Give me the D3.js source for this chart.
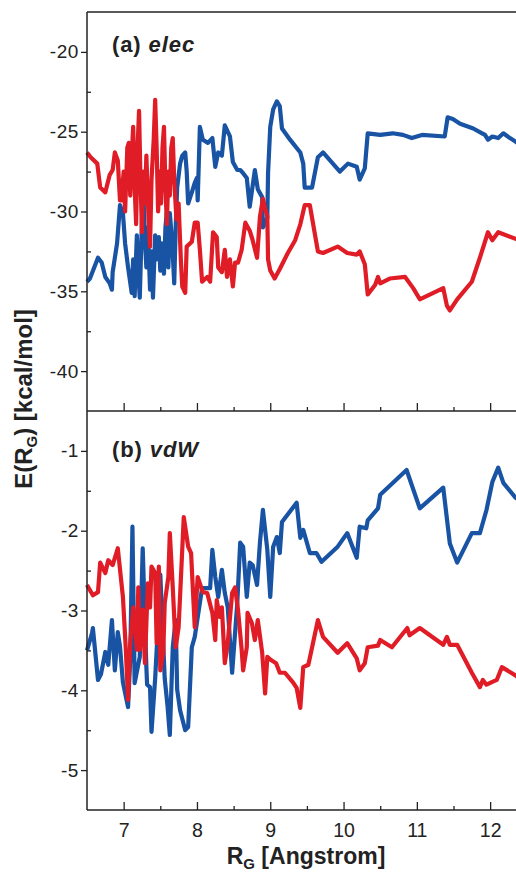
<!DOCTYPE html>
<html>
<head>
<meta charset="utf-8">
<title>E(RG) elec / vdW</title>
<script src="https://cdn.jsdelivr.net/npm/d3@7"></script>
<style>
  body { margin: 0; background: #fff; }
  svg { display: block; font-family: "Liberation Sans", Arial, sans-serif; }
  .tick text { fill: #222; }
</style>
</head>
<body>
<div id="chart"></div>
<script>
// tick values
var xMajor = [7, 8, 9, 10, 11, 12];
var xMinor = [7.5, 8.5, 9.5, 10.5, 11.5, 12.5];
var elecMajor = [-40, -35, -30, -25, -20];
var elecMinor = [-37.5, -32.5, -27.5, -22.5];
var vdwMajor = [-5, -4, -3, -2, -1];
var vdwMinor = [-4.5, -3.5, -2.5, -1.5];

// (a) elec, blue curve  [RG, E]
var elecBlue = [
  [6.50,-34.4],[6.54,-34.2],[6.65,-32.9],[6.70,-33.2],[6.75,-34.1],[6.81,-34.5],[6.84,-34.9],[6.85,-33.8],
  [6.91,-32.0],[6.95,-29.6],[6.99,-30.1],[7.02,-32.0],[7.06,-33.5],[7.11,-35.1],[7.13,-33.0],[7.15,-35.3],
  [7.18,-31.5],[7.20,-33.8],[7.22,-35.4],[7.25,-30.5],[7.27,-29.0],[7.29,-31.8],[7.31,-33.5],[7.33,-31.0],
  [7.36,-34.9],[7.38,-32.5],[7.40,-35.4],[7.43,-31.5],[7.45,-33.0],[7.48,-31.6],[7.50,-33.7],[7.52,-32.0],
  [7.55,-33.9],[7.57,-31.0],[7.59,-30.0],[7.61,-33.5],[7.63,-30.1],[7.66,-31.8],[7.69,-34.5],[7.71,-31.0],
  [7.73,-28.5],[7.77,-27.0],[7.80,-26.5],[7.84,-26.3],[7.86,-27.5],[7.88,-29.5],[7.93,-28.8],[7.97,-28.2],
  [8.00,-27.9],[8.01,-29.3],[8.04,-24.7],[8.08,-25.5],[8.15,-25.7],[8.21,-25.4],[8.25,-27.2],[8.29,-26.3],
  [8.34,-26.5],[8.38,-24.6],[8.45,-25.3],[8.49,-26.9],[8.55,-27.4],[8.59,-27.4],[8.63,-27.6],[8.68,-27.9],
  [8.72,-29.7],[8.79,-27.4],[8.83,-28.6],[8.89,-29.1],[8.90,-31.0],[8.96,-30.4],[8.97,-27.6],[9.00,-24.7],
  [9.04,-23.6],[9.09,-23.1],[9.13,-23.4],[9.16,-24.8],[9.27,-25.5],[9.41,-26.3],[9.45,-27.0],[9.47,-28.5],
  [9.57,-28.5],[9.65,-26.6],[9.72,-26.3],[9.95,-27.5],[10.06,-27.0],[10.18,-27.2],[10.22,-28.0],[10.29,-27.3],
  [10.33,-25.1],[10.50,-25.2],[10.67,-25.1],[10.81,-25.2],[10.93,-25.4],[11.07,-25.2],[11.38,-25.3],[11.42,-24.1],
  [11.49,-24.2],[11.59,-24.5],[11.77,-24.8],[11.89,-25.1],[11.93,-25.2],[11.97,-25.5],[12.03,-25.3],[12.11,-25.4],
  [12.18,-25.1],[12.27,-25.4],[12.34,-25.6],[12.40,-25.8]
];

// (a) elec, red curve
var elecRed = [
  [6.50,-26.3],[6.55,-26.6],[6.64,-27.0],[6.68,-28.5],[6.75,-28.8],[6.81,-27.7],[6.85,-27.4],[6.88,-26.3],
  [6.92,-26.8],[6.95,-29.3],[6.97,-29.3],[7.00,-27.5],[7.02,-30.0],[7.05,-26.0],[7.07,-25.7],[7.09,-29.0],
  [7.11,-26.5],[7.13,-24.7],[7.15,-28.5],[7.17,-30.8],[7.19,-26.0],[7.21,-23.7],[7.23,-28.0],[7.25,-31.3],
  [7.27,-27.5],[7.29,-29.5],[7.31,-26.5],[7.34,-30.5],[7.36,-32.2],[7.38,-28.0],[7.41,-25.5],[7.43,-23.0],
  [7.45,-26.0],[7.47,-30.0],[7.49,-27.5],[7.51,-29.5],[7.53,-26.0],[7.55,-24.7],[7.57,-28.5],[7.59,-30.8],
  [7.61,-27.5],[7.63,-29.0],[7.65,-26.0],[7.67,-25.4],[7.69,-28.0],[7.72,-30.5],[7.75,-29.5],[7.78,-33.0],
  [7.80,-34.7],[7.84,-35.1],[7.86,-32.2],[7.93,-31.9],[7.97,-30.7],[8.01,-30.7],[8.04,-32.4],[8.07,-34.4],
  [8.14,-34.1],[8.18,-34.4],[8.22,-31.3],[8.27,-31.6],[8.29,-33.5],[8.34,-33.8],[8.38,-32.4],[8.41,-34.1],
  [8.45,-33.0],[8.49,-34.7],[8.52,-33.2],[8.56,-33.2],[8.61,-32.4],[8.66,-30.7],[8.72,-31.2],[8.76,-31.8],
  [8.82,-32.9],[8.86,-30.3],[8.90,-29.2],[8.93,-29.8],[8.96,-30.3],[8.97,-33.0],[9.00,-33.7],[9.06,-34.2],
  [9.13,-33.6],[9.24,-32.6],[9.34,-31.8],[9.41,-30.8],[9.45,-30.0],[9.47,-29.6],[9.54,-29.6],[9.65,-32.5],
  [9.72,-32.6],[9.92,-32.2],[10.05,-32.6],[10.18,-32.7],[10.22,-32.5],[10.29,-33.3],[10.33,-35.2],[10.43,-34.6],
  [10.47,-34.1],[10.50,-34.5],[10.63,-34.2],[10.84,-34.1],[10.95,-34.8],[11.04,-35.5],[11.36,-34.8],[11.41,-35.9],
  [11.45,-36.2],[11.55,-35.5],[11.75,-34.4],[11.86,-32.9],[11.97,-31.3],[12.03,-31.8],[12.11,-31.3],[12.34,-31.7],
  [12.40,-31.8]
];

// (b) vdW, blue curve
var vdwBlue = [
  [6.50,-3.50],[6.57,-3.28],[6.58,-3.22],[6.65,-3.87],[6.69,-3.80],[6.75,-3.52],[6.79,-3.68],[6.84,-3.12],
  [6.88,-3.75],[6.92,-3.27],[6.95,-3.45],[6.99,-3.90],[7.06,-4.21],[7.09,-3.60],[7.12,-1.95],[7.15,-3.91],
  [7.22,-3.58],[7.26,-2.22],[7.31,-3.71],[7.32,-3.93],[7.36,-3.96],[7.38,-4.52],[7.43,-3.85],[7.46,-3.33],
  [7.50,-2.55],[7.56,-3.85],[7.60,-4.21],[7.63,-4.56],[7.67,-3.46],[7.71,-3.12],[7.73,-3.99],[7.77,-4.25],
  [7.84,-4.50],[7.88,-4.46],[7.93,-3.46],[7.97,-3.33],[8.07,-2.72],[8.18,-2.72],[8.21,-2.24],[8.25,-2.58],
  [8.29,-2.83],[8.34,-2.49],[8.38,-2.78],[8.42,-2.96],[8.48,-3.78],[8.55,-2.91],[8.59,-2.15],[8.63,-2.20],
  [8.68,-2.83],[8.72,-2.40],[8.76,-2.43],[8.82,-2.68],[8.86,-2.14],[8.90,-1.74],[8.96,-2.24],[9.00,-2.83],
  [9.04,-2.20],[9.09,-2.08],[9.13,-2.28],[9.16,-1.89],[9.36,-1.65],[9.41,-2.09],[9.45,-1.99],[9.54,-2.28],
  [9.63,-2.28],[9.70,-2.39],[9.92,-2.20],[10.05,-2.03],[10.18,-2.34],[10.22,-1.95],[10.31,-1.97],[10.33,-1.87],
  [10.47,-1.72],[10.50,-1.55],[10.86,-1.24],[11.04,-1.72],[11.36,-1.46],[11.45,-2.16],[11.55,-2.40],[11.75,-2.03],
  [11.86,-2.03],[11.95,-1.74],[12.03,-1.39],[12.11,-1.21],[12.18,-1.40],[12.34,-1.58],[12.40,-1.62]
];

// (b) vdW, red curve
var vdwRed = [
  [6.50,-2.68],[6.58,-2.81],[6.65,-2.77],[6.68,-2.40],[6.75,-2.53],[6.79,-2.37],[6.85,-2.43],[6.92,-2.22],
  [6.99,-2.83],[7.03,-3.49],[7.06,-4.12],[7.09,-3.41],[7.13,-2.96],[7.18,-3.49],[7.20,-2.71],[7.22,-3.49],
  [7.26,-2.99],[7.29,-3.66],[7.33,-2.66],[7.36,-2.96],[7.38,-2.45],[7.43,-2.53],[7.45,-3.41],[7.48,-2.45],
  [7.50,-3.75],[7.54,-3.53],[7.56,-2.91],[7.61,-2.58],[7.63,-2.03],[7.67,-2.71],[7.71,-3.46],[7.75,-3.21],
  [7.82,-1.83],[7.88,-2.20],[7.92,-2.28],[7.97,-3.21],[8.01,-2.58],[8.08,-2.77],[8.14,-2.78],[8.21,-3.03],
  [8.25,-3.37],[8.27,-2.87],[8.31,-3.08],[8.34,-2.96],[8.38,-3.66],[8.42,-3.41],[8.48,-2.78],[8.52,-2.71],
  [8.56,-2.99],[8.61,-3.49],[8.63,-3.75],[8.68,-3.46],[8.69,-3.03],[8.75,-3.16],[8.79,-3.37],[8.83,-3.12],
  [8.89,-3.53],[8.93,-4.04],[8.96,-3.58],[9.01,-3.62],[9.08,-3.66],[9.13,-3.78],[9.20,-3.78],[9.31,-3.90],
  [9.36,-3.97],[9.41,-4.22],[9.45,-3.71],[9.52,-3.68],[9.65,-3.12],[9.72,-3.33],[9.92,-3.53],[10.05,-3.41],
  [10.18,-3.60],[10.22,-3.75],[10.29,-3.66],[10.33,-3.46],[10.47,-3.44],[10.50,-3.37],[10.66,-3.46],[10.87,-3.22],
  [10.90,-3.31],[11.04,-3.22],[11.36,-3.43],[11.41,-3.33],[11.45,-3.43],[11.55,-3.43],[11.75,-3.78],[11.86,-3.96],
  [11.90,-3.87],[11.95,-3.93],[12.09,-3.87],[12.16,-3.71],[12.34,-3.81],[12.40,-3.85]
];

var W = 516, H = 873;
// note: "top" is taken by window.top, so plot edges get their own names
var pLeft = 87, pTop = 12, pMid = 411, pBottom = 810;
var blue = "#1853a4", red = "#e01c26", ink = "#222";

var svg = d3.select("#chart").append("svg")
  .attr("width", W).attr("height", H);

// x runs off the right edge of the picture, like the cropped original
var x = d3.scaleLinear().domain([6.5, 12.5]).range([pLeft, pLeft + 6 * 73.3]);
var yA = d3.scaleLinear().domain([-42.5, -17.5]).range([pMid, pTop]);
var yB = d3.scaleLinear().domain([-5.5, -0.5]).range([pBottom, pMid]);

function panel(y, major, minor, baseY, showX, s1, s2, label, labelY){
  var g = svg.append("g");

  // minor y ticks (inside)
  g.append("g").attr("transform", "translate(" + pLeft + ",0)")
    .call(d3.axisLeft(y).tickValues(minor).tickSize(-4).tickFormat(""))
    .call(function(a){ a.select(".domain").remove(); });
  // major y ticks + labels
  g.append("g").attr("transform", "translate(" + pLeft + ",0)")
    .call(d3.axisLeft(y).tickValues(major).tickSize(6).tickPadding(2)
      .tickFormat(function(d){ return String(d); }))
    .call(function(a){
      a.select(".domain").remove();
      a.selectAll("text").style("font-size", "19px").style("letter-spacing", "0.6px");
    });

  // x ticks pointing up into the panel
  g.append("g").attr("transform", "translate(0," + baseY + ")")
    .call(d3.axisBottom(x).tickValues(xMinor).tickSize(-4).tickFormat(""))
    .call(function(a){ a.select(".domain").remove(); });
  g.append("g").attr("transform", "translate(0," + baseY + ")")
    .call(d3.axisBottom(x).tickValues(xMajor).tickSize(-8).tickPadding(13)
      .tickFormat(showX ? d3.format("d") : ""))
    .call(function(a){
      a.select(".domain").remove();
      a.selectAll("text").style("font-size", "19.5px");
    });

  g.selectAll(".tick line").attr("stroke", ink).attr("stroke-width", 1.3);

  var line = d3.line().x(function(d){ return x(d[0]); }).y(function(d){ return y(d[1]); });
  [[s1, blue], [s2, red]].forEach(function(s){
    g.append("path").datum(s[0])
      .attr("fill", "none")
      .attr("stroke", s[1])
      .attr("stroke-width", 4.2)
      .attr("stroke-linejoin", "round")
      .attr("d", line);
  });

  var t = g.append("text").attr("x", 112).attr("y", labelY)
    .attr("font-size", 22).attr("font-weight", "bold").attr("fill", ink)
    .attr("letter-spacing", "0.9px");
  t.append("tspan").text(label[0] + " ");
  t.append("tspan").attr("font-style", "italic").text(label[1]);
}

panel(yA, elecMajor, elecMinor, pMid, false, elecBlue, elecRed, ["(a)", "elec"], 52);
panel(yB, vdwMajor, vdwMinor, pBottom, true, vdwBlue, vdwRed, ["(b)", "vdW"], 457);

// frame lines
svg.append("g").attr("stroke", ink).attr("stroke-width", 1.5)
  .selectAll("line")
  .data([[pLeft, pTop, W, pTop], [pLeft, pMid, W, pMid], [pLeft, pBottom, W, pBottom], [pLeft, pTop, pLeft, pBottom]])
  .join("line")
  .attr("x1", function(d){ return d[0]; }).attr("y1", function(d){ return d[1]; })
  .attr("x2", function(d){ return d[2]; }).attr("y2", function(d){ return d[3]; });

// axis titles
var yt = svg.append("text")
  .attr("transform", "translate(32,399) rotate(-90)")
  .attr("text-anchor", "middle")
  .attr("font-size", 24).attr("font-weight", "bold").attr("fill", ink);
yt.append("tspan").text("E(R");
yt.append("tspan").attr("font-size", 15).attr("dy", 5).text("G");
yt.append("tspan").attr("dy", -5).text(") [kcal/mol]");

var xt = svg.append("text")
  .attr("x", 306).attr("y", 864)
  .attr("text-anchor", "middle")
  .attr("font-size", 23).attr("font-weight", "bold").attr("fill", ink);
xt.append("tspan").text("R");
xt.append("tspan").attr("font-size", 15).attr("dy", 5).text("G");
xt.append("tspan").attr("dy", -5).text(" [Angstrom]");
</script>
</body>
</html>
